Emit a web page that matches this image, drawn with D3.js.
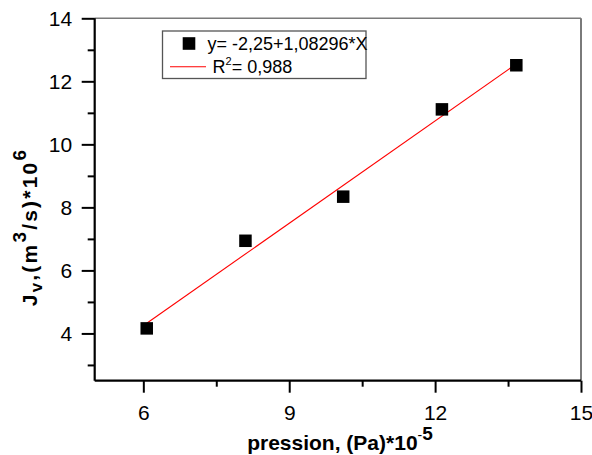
<!DOCTYPE html>
<html>
<head>
<meta charset="utf-8">
<script src="https://cdn.jsdelivr.net/npm/d3@7"></script>
<style>
  html, body { margin: 0; padding: 0; background: #fff; }
  svg { display: block; font-family: "Liberation Sans", Arial, sans-serif; }
</style>
</head>
<body>
<svg id="chart" width="592" height="455"></svg>
<script>
// ---- data ----
const pressure = [6.07, 8.10, 10.11, 12.14, 13.67];
const flux = [4.16, 6.94, 8.34, 11.11, 12.51];
const fitIntercept = -2.25;
const fitSlope = 1.08296;
const xMajorTicks = [6, 9, 12, 15];
const xMinorTicks = [7.5, 10.5, 13.5];
const yMajorTicks = [4, 6, 8, 10, 12, 14];
const yMinorTicks = [3, 5, 7, 9, 11, 13];
const legendEquation = "y= -2,25+1,08296*X";
const legendR2 = "= 0,988";

// ---- layout ----
const svg = d3.select("#chart");
const L = 94.7, R = 581, T = 18.3, B = 380.7;
const x = d3.scaleLinear().domain([5, 15]).range([L, R]);
const y = d3.scaleLinear().domain([2.5, 14]).range([B, T]);

// frame top/right (grey)
svg.append("line").attr("x1", L).attr("x2", R).attr("y1", T).attr("y2", T)
  .attr("stroke", "#7a7a7a").attr("stroke-width", 1.6);
svg.append("line").attr("x1", R).attr("x2", R).attr("y1", T).attr("y2", B)
  .attr("stroke", "#7a7a7a").attr("stroke-width", 2);

// bottom axis
const gx = svg.append("g").attr("transform", `translate(0,${B})`);
gx.call(d3.axisBottom(x).tickValues(xMajorTicks).tickSize(12).tickPadding(12).tickFormat(d3.format("d")));
const gxm = svg.append("g").attr("transform", `translate(0,${B})`);
gxm.call(d3.axisBottom(x).tickValues(xMinorTicks).tickSize(6).tickFormat(""));
gxm.select(".domain").remove();

// left axis
const gy = svg.append("g").attr("transform", `translate(${L},0)`);
gy.call(d3.axisLeft(y).tickValues(yMajorTicks).tickSize(13).tickPadding(9.5).tickFormat(d3.format("d")));
const gym = svg.append("g").attr("transform", `translate(${L},0)`);
gym.call(d3.axisLeft(y).tickValues(yMinorTicks).tickSize(7).tickFormat(""));
gym.select(".domain").remove();

svg.selectAll(".domain").attr("stroke", "#000").attr("stroke-width", 2.2);
svg.selectAll(".tick line").attr("stroke", "#000").attr("stroke-width", 2);
svg.selectAll(".tick text").attr("font-size", 21).attr("fill", "#000")
  .attr("font-family", "'Liberation Sans', Arial, sans-serif");
gx.select(".domain").attr("d", `M${L},0H${R}`);
gy.select(".domain").attr("d", `M0,${B}V${T}`);

// fit line
const xs = d3.extent(pressure);
const fitData = xs.map(v => [v, fitIntercept + fitSlope * v]);
svg.append("path").datum(fitData)
  .attr("d", d3.line().x(d => x(d[0])).y(d => y(d[1])))
  .attr("fill", "none").attr("stroke", "#ff0000").attr("stroke-width", 1.1);

// points
const ms = 12.5;
svg.append("g").selectAll("rect").data(pressure.map((p, i) => [p, flux[i]])).join("rect")
  .attr("x", d => x(d[0]) - ms / 2).attr("y", d => y(d[1]) - ms / 2)
  .attr("width", ms).attr("height", ms).attr("fill", "#000");

// legend
const lg = svg.append("g");
lg.append("rect").attr("x", 162.5).attr("y", 31).attr("width", 203.5).attr("height", 47.5)
  .attr("fill", "#fff").attr("stroke", "#555").attr("stroke-width", 1.3);
lg.append("rect").attr("x", 189 - 6.3).attr("y", 43.5 - 6.3).attr("width", 12.6).attr("height", 12.6).attr("fill", "#000");
lg.append("text").attr("x", 207.5).attr("y", 49.8).attr("font-size", 18).text(legendEquation);
lg.append("line").attr("x1", 170).attr("x2", 206).attr("y1", 66.7).attr("y2", 66.7)
  .attr("stroke", "#ff0000").attr("stroke-width", 1.1);
const r2 = lg.append("text").attr("x", 212.5).attr("y", 72.7).attr("font-size", 18);
r2.append("tspan").text("R");
r2.append("tspan").attr("font-size", 11).attr("dy", -7.5).text("2");
r2.append("tspan").attr("dy", 7.5).text(legendR2);

// x title
const xt = svg.append("text").attr("x", 340).attr("y", 450).attr("text-anchor", "middle")
  .attr("font-size", 21).attr("font-weight", "bold");
xt.append("tspan").text("pression, (Pa)*10");
xt.append("tspan").attr("font-size", 14).attr("font-weight", "normal").attr("dy", -10).text("-");
xt.append("tspan").attr("font-size", 19).text("5");

// y title
const yt = svg.append("text").attr("transform", "translate(37,227) rotate(-90)")
  .attr("text-anchor", "middle").attr("font-size", 21).attr("font-weight", "bold")
  .attr("letter-spacing", 2.2);
yt.append("tspan").text("J");
yt.append("tspan").attr("font-size", 17).attr("dy", 5).text("v");
yt.append("tspan").attr("dy", -5).text(",(m");
yt.append("tspan").attr("font-size", 19).attr("dy", -11).text("3");
yt.append("tspan").attr("dy", 11).text("/s)*10");
yt.append("tspan").attr("font-size", 19).attr("dy", -11).text("6");
</script>
</body>
</html>
